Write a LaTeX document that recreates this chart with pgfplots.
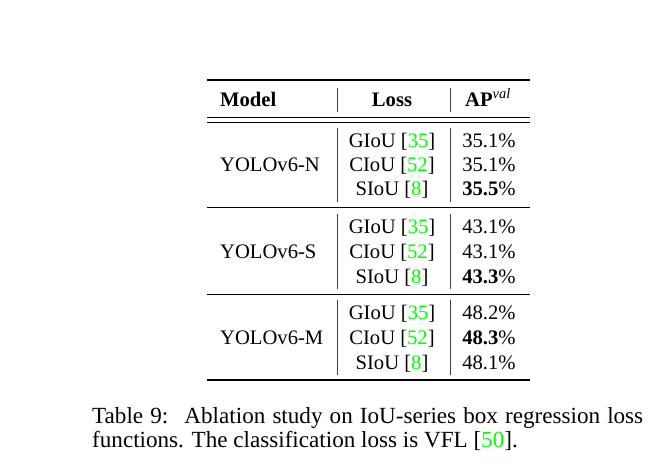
\documentclass[border=0pt]{standalone}
\usepackage{pgfplots}
\pgfplotsset{compat=1.18}
\usepackage{fontspec}
\setmainfont{Liberation Serif}
\definecolor{citegreen}{rgb}{0,1,0}
\definecolor{rulegray}{gray}{0.25}
\protected\def\cit#1{[{\color{citegreen}#1}]}
\begin{document}
\fontsize{20.7}{25}\selectfont
\begin{tikzpicture}
\begin{axis}[
  width=665bp, height=473bp, scale only axis,
  xmin=0, xmax=665, ymin=0, ymax=473, y dir=reverse,
  hide axis, clip=false,
  point meta=explicit symbolic,
  nodes near coords={\pgfplotspointmeta},
  every node near coord/.append style={inner sep=0pt, font=\fontsize{20.7}{25}\selectfont},
]
\path (rel axis cs:0,0) rectangle (rel axis cs:1,1);
% rules
\draw[line width=1.7bp] (axis cs:207,80) -- (axis cs:530,80);
\draw[line width=0.9bp] (axis cs:207,117) -- (axis cs:530,117);
\draw[line width=0.9bp] (axis cs:207,122) -- (axis cs:530,122);
\draw[line width=0.9bp] (axis cs:207,207) -- (axis cs:530,207);
\draw[line width=0.9bp] (axis cs:207,294) -- (axis cs:530,294);
\draw[line width=1.7bp] (axis cs:207,380) -- (axis cs:530,380);
% column separators
\pgfplotsinvokeforeach{337,450}{
  \draw[line width=0.9bp, rulegray] (axis cs:#1,88) -- (axis cs:#1,112);
  \draw[line width=0.9bp, rulegray] (axis cs:#1,128) -- (axis cs:#1,202);
  \draw[line width=0.9bp, rulegray] (axis cs:#1,214) -- (axis cs:#1,289);
  \draw[line width=0.9bp, rulegray] (axis cs:#1,300) -- (axis cs:#1,375);
}
% header
\addplot[only marks, mark=none,
  every node near coord/.append style={anchor=base west}] coordinates {
  (220,106) [\textbf{Model}]
};
\addplot[only marks, mark=none,
  every node near coord/.append style={anchor=base}] coordinates {
  (392,106) [\textbf{Loss}]
  (488,106) [{\textbf{AP}\textsuperscript{\itshape val}}]
};
% model names
\addplot[only marks, mark=none,
  every node near coord/.append style={anchor=base west}] coordinates {
  (220,171) [YOLOv6-N]
  (220,258) [YOLOv6-S]
  (220,344) [YOLOv6-M]
};
% loss column
\addplot[only marks, mark=none,
  every node near coord/.append style={anchor=base}] coordinates {
  (392,147) [{GIoU \cit{35}}]
  (392,171) [{CIoU \cit{52}}]
  (392,195) [{SIoU \cit{8}}]
  (392,233) [{GIoU \cit{35}}]
  (392,258) [{CIoU \cit{52}}]
  (392,283) [{SIoU \cit{8}}]
  (392,319) [{GIoU \cit{35}}]
  (392,344) [{CIoU \cit{52}}]
  (392,369) [{SIoU \cit{8}}]
};
% AP column
\addplot[only marks, mark=none,
  every node near coord/.append style={anchor=base}] coordinates {
  (489,147) [35.1\%]
  (489,171) [35.1\%]
  (489,195) [{\textbf{35.5}\%}]
  (489,233) [43.1\%]
  (489,258) [43.1\%]
  (489,283) [{\textbf{43.3}\%}]
  (489,319) [48.2\%]
  (489,344) [{\textbf{48.3}\%}]
  (489,369) [48.1\%]
};
% caption
\node[anchor=base west, inner sep=0pt, font=\fontsize{23.2}{25}\selectfont] at (axis cs:92,423)
  {\makebox[551bp][s]{Table 9:\kern0.25em{} Ablation study on IoU-series box regression loss}};
\node[anchor=base west, inner sep=0pt, font=\fontsize{23.2}{25}\selectfont] at (axis cs:92,447)
  {functions. The classification loss is VFL \cit{50}.};
\end{axis}
\end{tikzpicture}
\end{document}
